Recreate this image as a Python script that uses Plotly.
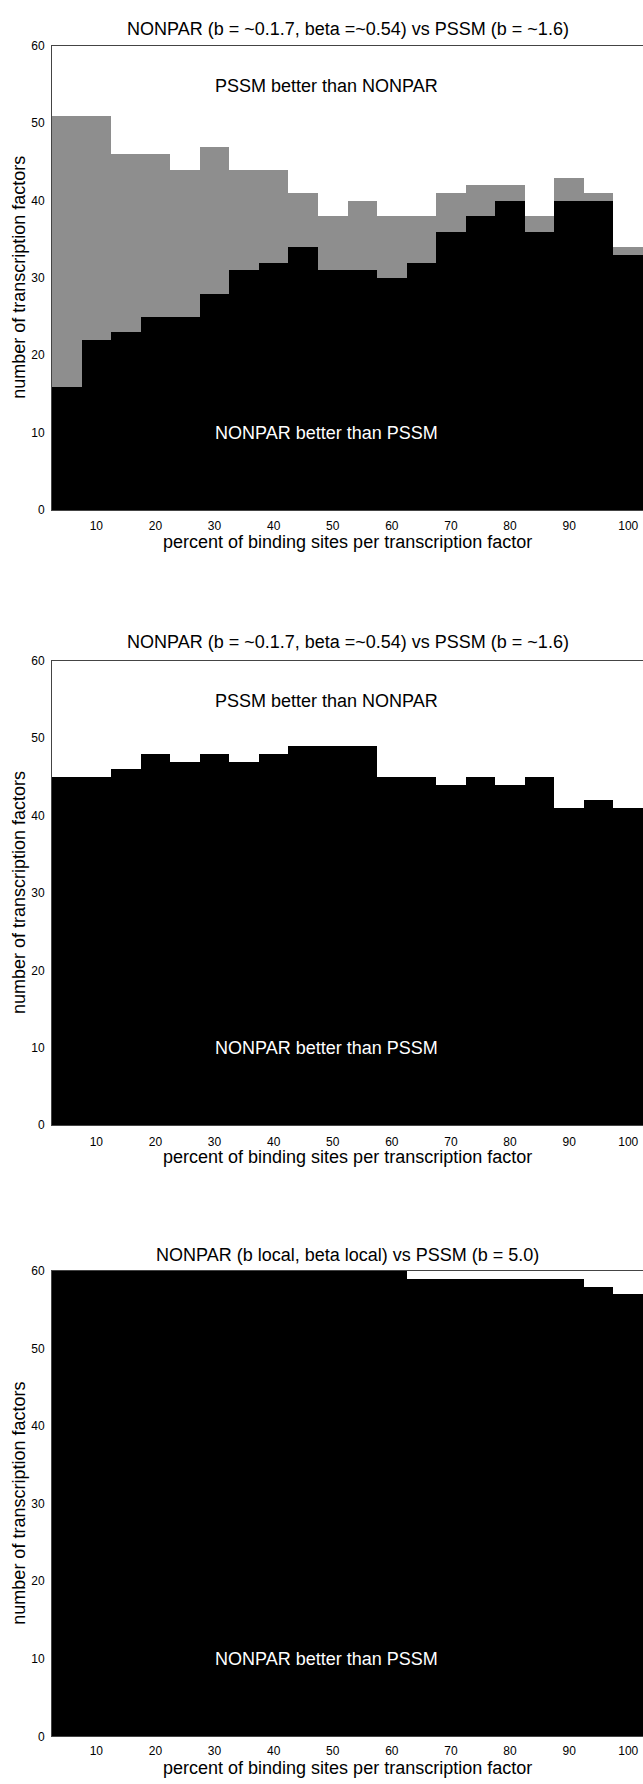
import plotly.graph_objects as go

# ---- data ----
bin_centers = [5, 10, 15, 20, 25, 30, 35, 40, 45, 50, 55, 60, 65, 70, 75, 80, 85, 90, 95, 100]

# panel 1: NONPAR (b=~0.1.7, beta=~0.54) vs PSSM (b=~1.6), scanned version
p1_gray_top = [51, 51, 46, 46, 44, 47, 44, 44, 41, 38, 40, 38, 38, 41, 42, 42, 38, 43, 41, 34]
p1_nonpar_better = [16, 22, 23, 25, 25, 28, 31, 32, 34, 31, 31, 30, 32, 36, 38, 40, 36, 40, 40, 33]

# panel 2: NONPAR (b=~0.1.7, beta=~0.54) vs PSSM (b=~1.6)
p2_nonpar_better = [45, 45, 46, 48, 47, 48, 47, 48, 49, 49, 49, 45, 45, 44, 45, 44, 45, 41, 42, 41]

# panel 3: NONPAR (b local, beta local) vs PSSM (b=5.0)
p3_nonpar_better = [60, 60, 60, 60, 60, 60, 60, 60, 60, 60, 60, 60, 59, 59, 59, 59, 59, 59, 58, 57]

titles = [
    "NONPAR (b = ~0.1.7, beta =~0.54) vs PSSM (b = ~1.6)",
    "NONPAR (b = ~0.1.7, beta =~0.54) vs PSSM (b = ~1.6)",
    "NONPAR (b local, beta local) vs PSSM (b = 5.0)",
]
x_ticks = [10, 20, 30, 40, 50, 60, 70, 80, 90, 100]
y_ticks = [0, 10, 20, 30, 40, 50, 60]
x_label = "percent of binding sites per transcription factor"
y_label = "number of transcription factors"
upper_text = "PSSM better than NONPAR"
lower_text = "NONPAR better than PSSM"

# ---- layout geometry (image pixels) ----
W, H = 643, 1784
FONT = "Liberation Sans, Arial, Helvetica, sans-serif"
panels = [  # (top px, bottom px, title y, xlabel y, tick standoff)
    (39, 507, 22, 539, 5),
    (659, 1127, 640, 1159, 5),
    (1274, 1743, 1258, 1775, 3),
]
left_img = 52


def px(xi):
    return xi / W


def py(yi):
    return 1 - yi / H


fig = go.Figure()
GRAY = "#8e8e8e"

series = [
    [(p1_gray_top, GRAY), (p1_nonpar_better, "black")],
    [(p2_nonpar_better, "black")],
    [(p3_nonpar_better, "black")],
]

for i, traces in enumerate(series):
    ax = "" if i == 0 else str(i + 1)
    for vals, col in traces:
        fig.add_trace(go.Bar(
            x=bin_centers, y=vals, width=5,
            marker=dict(color=col, line=dict(width=0)),
            xaxis="x" + ax, yaxis="y" + ax, showlegend=False,
            hoverinfo="skip",
        ))

annotations = []
center_x = px((left_img + W) / 2)
for i, (top, bot, ty, xly, stand) in enumerate(panels):
    ax = "" if i == 0 else str(i + 1)
    fig.layout["xaxis" + ax] = dict(
        domain=[px(left_img), 1], range=[2.5, 102.5], anchor="y" + ax,
        tickvals=x_ticks, ticks="", showline=True, mirror=True,
        linecolor="#444", linewidth=1, showgrid=False, zeroline=False,
        tickfont=dict(family=FONT, size=12, color="black"),
        ticklabelstandoff=stand,
    )
    fig.layout["yaxis" + ax] = dict(
        domain=[py(bot), py(top)], range=[0, 60], anchor="x" + ax,
        tickvals=y_ticks, ticks="", showline=True, mirror=False,
        linecolor="#444", linewidth=1, showgrid=False, zeroline=False,
        tickfont=dict(family=FONT, size=12, color="black"),
        ticklabelstandoff=4,
    )
    annotations.append(dict(
        text=titles[i], xref="paper", yref="paper",
        x=center_x, y=py(ty), xanchor="center", yanchor="middle",
        showarrow=False, font=dict(family=FONT, size=18, color="black"),
    ))
    annotations.append(dict(
        text=x_label, xref="paper", yref="paper",
        x=center_x, y=py(xly), xanchor="center", yanchor="middle",
        showarrow=False, font=dict(family=FONT, size=18, color="black"),
    ))
    annotations.append(dict(
        text=y_label, xref="paper", yref="paper", textangle=-90,
        x=px(19), y=py((top + bot) / 2), xanchor="center", yanchor="middle",
        showarrow=False, font=dict(family=FONT, size=18, color="black"),
    ))
    if i < 2:
        annotations.append(dict(
            text=upper_text, xref="x" + ax, yref="y" + ax, x=49, y=54.8,
            xanchor="center", yanchor="middle", showarrow=False,
            font=dict(family=FONT, size=18, color="black"),
        ))
    annotations.append(dict(
        text=lower_text, xref="x" + ax, yref="y" + ax, x=49, y=10,
        xanchor="center", yanchor="middle", showarrow=False,
        font=dict(family=FONT, size=18, color="white"),
    ))

fig.update_layout(
    width=W, height=H, margin=dict(l=0, r=0, t=0, b=0),
    paper_bgcolor="white", plot_bgcolor="white",
    barmode="overlay", bargap=0, annotations=annotations,
)

# remove the default page margin so the figure fills the window exactly
fig.write_html(
    "out.html",
    config={"displayModeBar": False},
    post_script="document.body.style.margin='0';document.body.style.overflow='hidden';",
)
